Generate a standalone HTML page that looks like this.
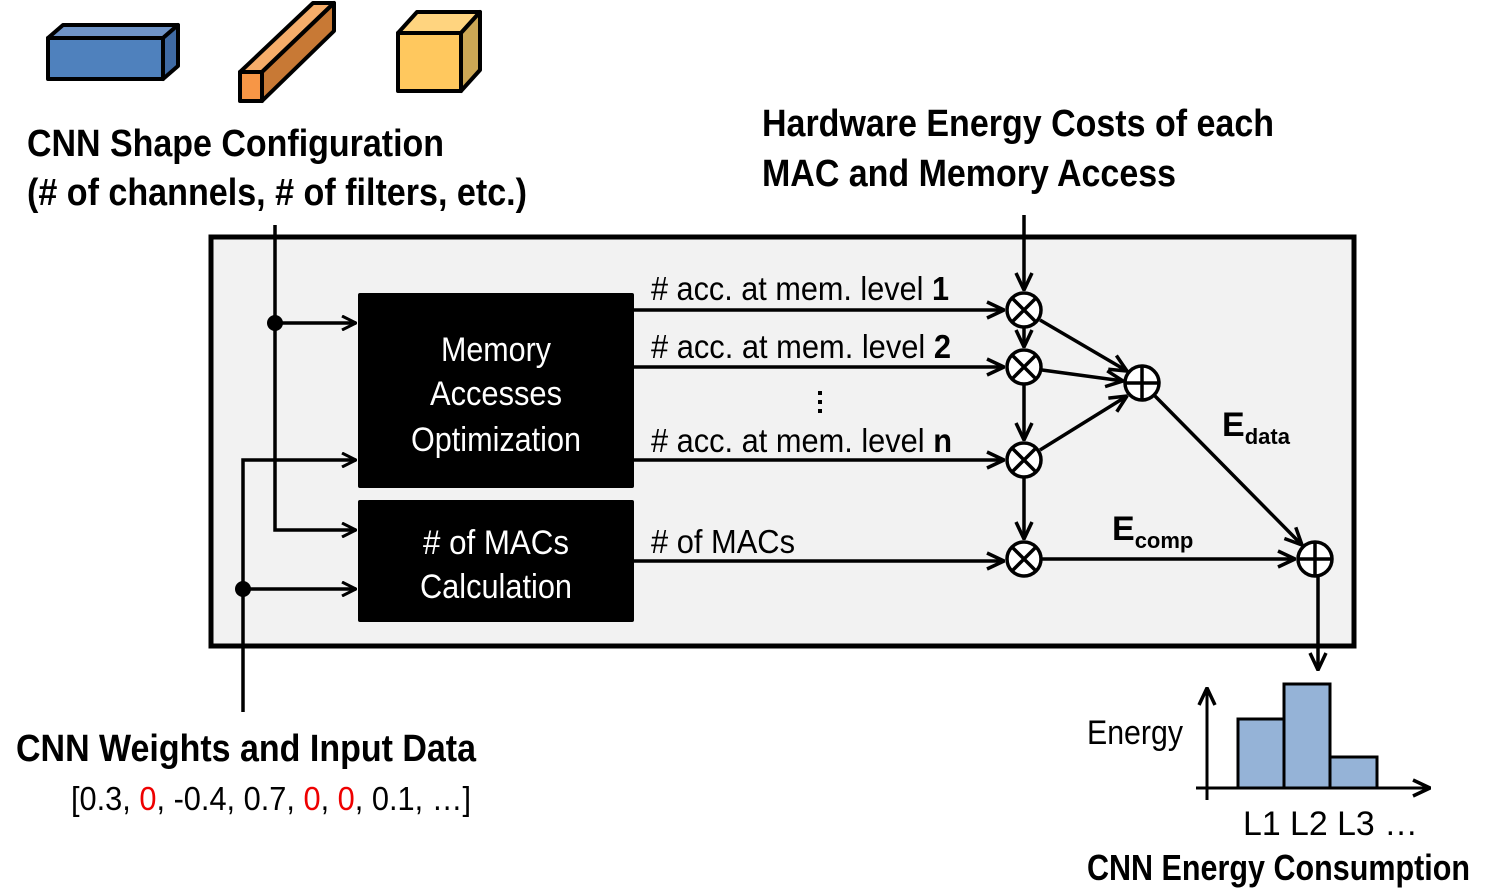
<!DOCTYPE html>
<html><head><meta charset="utf-8"><style>
html,body{margin:0;padding:0;background:#fff;}
svg{display:block;}
text{font-family:"Liberation Sans",Arial,sans-serif;}
.b{font-weight:bold;}
</style></head><body>
<svg width="1500" height="896" viewBox="0 0 1500 896" xmlns="http://www.w3.org/2000/svg">
<defs>
<marker id="a" viewBox="0 0 16 16" refX="15" refY="8" markerWidth="16" markerHeight="16" markerUnits="userSpaceOnUse" orient="auto">
<path d="M1,1 L15,8 L1,15" fill="none" stroke="#000" stroke-width="3"/>
</marker>
<marker id="a2" viewBox="0 0 20 20" refX="19" refY="10" markerWidth="20" markerHeight="20" markerUnits="userSpaceOnUse" orient="auto">
<path d="M2,2 L19,10 L2,18" fill="none" stroke="#000" stroke-width="3.5"/>
</marker>
</defs>
<g stroke="#000" stroke-width="4" stroke-linejoin="round">
<polygon points="48,38 63,25 178,25 163,38" fill="#6f93c6"/>
<polygon points="163,38 178,25 178,66 163,79" fill="#3f6aa3"/>
<rect x="48" y="38" width="115" height="41" fill="#4f81bd"/>
<polygon points="240,72 313,3 334,3 262,72" fill="#f6ad6a"/>
<polygon points="262,72 334,3 334,31 262,101" fill="#c87935"/>
<rect x="240" y="72" width="22" height="29" fill="#f79646"/>
<polygon points="398,33 417,12 480,12 461,33" fill="#ffd47f"/>
<polygon points="461,33 480,12 480,70 461,91" fill="#cca755"/>
<rect x="398" y="33" width="63" height="58" fill="#ffc85e"/>
</g>
<text x="27" y="156" font-size="38" class="b" textLength="417" lengthAdjust="spacingAndGlyphs">CNN Shape Configuration</text>
<text x="27" y="205" font-size="38" class="b" textLength="500" lengthAdjust="spacingAndGlyphs">(# of channels, # of filters, etc.)</text>
<text x="762" y="136" font-size="38" class="b" textLength="512" lengthAdjust="spacingAndGlyphs">Hardware Energy Costs of each</text>
<text x="762" y="186" font-size="38" class="b" textLength="414" lengthAdjust="spacingAndGlyphs">MAC and Memory Access</text>
<rect x="211" y="237" width="1143" height="409" fill="#f2f2f2" stroke="#000" stroke-width="5"/>
<rect x="358" y="293" width="276" height="195" rx="2" fill="#000"/>
<rect x="358" y="500" width="276" height="122" rx="2" fill="#000"/>
<g fill="#fff" font-size="34" text-anchor="middle">
<text x="496" y="361" textLength="110" lengthAdjust="spacingAndGlyphs">Memory</text>
<text x="496" y="405" textLength="132" lengthAdjust="spacingAndGlyphs">Accesses</text>
<text x="496" y="451" textLength="170" lengthAdjust="spacingAndGlyphs">Optimization</text>
<text x="496" y="554" textLength="146" lengthAdjust="spacingAndGlyphs"># of MACs</text>
<text x="496" y="598" textLength="152" lengthAdjust="spacingAndGlyphs">Calculation</text>
</g>
<g stroke="#000" stroke-width="3.5" fill="none">
<path d="M275,225 V530 H356" marker-end="url(#a)"/>
<path d="M275,323 H356" marker-end="url(#a)"/>
<path d="M243,712 V460 H356" marker-end="url(#a)"/>
<path d="M243,589 H356" marker-end="url(#a)"/>
<path d="M634,310 H1004" marker-end="url(#a2)"/>
<path d="M634,367 H1004" marker-end="url(#a2)"/>
<path d="M634,460 H1004" marker-end="url(#a2)"/>
<path d="M634,561 H1004" marker-end="url(#a2)"/>
<path d="M1024,215 V290" marker-end="url(#a2)"/>
<path d="M1024,328 V347" marker-end="url(#a2)"/>
<path d="M1024,385 V440" marker-end="url(#a2)"/>
<path d="M1024,478 V539" marker-end="url(#a2)"/>
<path d="M1040,320 L1127,371" marker-end="url(#a2)"/>
<path d="M1042,370 L1123,381" marker-end="url(#a2)"/>
<path d="M1040,450 L1127,396" marker-end="url(#a2)"/>
<path d="M1155,396 L1302,545" marker-end="url(#a2)"/>
<path d="M1042,559 H1295" marker-end="url(#a2)"/>
<path d="M1318,577 V670" marker-end="url(#a2)"/>
</g>
<circle cx="275" cy="323" r="8"/>
<circle cx="243" cy="589" r="8"/>
<g stroke="#000" stroke-width="3.5" fill="#fff">
<g transform="translate(1024,310)"><circle r="17"/><path d="M-12,-12 L12,12 M12,-12 L-12,12"/></g>
<g transform="translate(1024,367)"><circle r="17"/><path d="M-12,-12 L12,12 M12,-12 L-12,12"/></g>
<g transform="translate(1024,460)"><circle r="17"/><path d="M-12,-12 L12,12 M12,-12 L-12,12"/></g>
<g transform="translate(1024,559)"><circle r="17"/><path d="M-12,-12 L12,12 M12,-12 L-12,12"/></g>
<g transform="translate(1142,383)"><circle r="17"/><path d="M0,-17 V17 M-17,0 H17"/></g>
<g transform="translate(1315,559)"><circle r="17"/><path d="M0,-17 V17 M-17,0 H17"/></g>
</g>
<g font-size="33">
<text x="651" y="300" textLength="298" lengthAdjust="spacingAndGlyphs"># acc. at mem. level <tspan class="b">1</tspan></text>
<text x="651" y="358" textLength="300" lengthAdjust="spacingAndGlyphs"># acc. at mem. level <tspan class="b">2</tspan></text>
<text x="651" y="452" textLength="301" lengthAdjust="spacingAndGlyphs"># acc. at mem. level <tspan class="b">n</tspan></text>
<text x="651" y="553" textLength="144" lengthAdjust="spacingAndGlyphs"># of MACs</text>
</g>
<g fill="#000"><rect x="818" y="391" width="4" height="4"/><rect x="818" y="400" width="4" height="4"/><rect x="818" y="409" width="4" height="4"/></g>
<text x="1222" y="436" font-size="34" class="b">E<tspan font-size="22" dy="8">data</tspan></text>
<text x="1112" y="540" font-size="34" class="b">E<tspan font-size="22" dy="8">comp</tspan></text>
<text x="16" y="761" font-size="38" class="b" textLength="460" lengthAdjust="spacingAndGlyphs">CNN Weights and Input Data</text>
<text x="71" y="810" font-size="33" textLength="400" lengthAdjust="spacingAndGlyphs">[0.3, <tspan fill="#e00">0</tspan>, -0.4, 0.7, <tspan fill="#e00">0</tspan>, <tspan fill="#e00">0</tspan>, 0.1, …]</text>
<g stroke="#000" stroke-width="3" fill="#95b3d7">
<rect x="1238" y="719" width="46" height="69"/>
<rect x="1284" y="684" width="46" height="104"/>
<rect x="1330" y="757" width="47" height="31"/>
</g>
<g stroke="#000" stroke-width="3" fill="none">
<path d="M1207,800 V688" marker-end="url(#a2)"/>
<path d="M1196,788 H1430" marker-end="url(#a2)"/>
</g>
<text x="1087" y="744" font-size="34" textLength="96" lengthAdjust="spacingAndGlyphs">Energy</text>
<text x="1243" y="835" font-size="34" textLength="175" lengthAdjust="spacingAndGlyphs">L1 L2 L3  …</text>
<text x="1087" y="880" font-size="36" class="b" textLength="383" lengthAdjust="spacingAndGlyphs">CNN Energy Consumption</text>
</svg>
</body></html>
